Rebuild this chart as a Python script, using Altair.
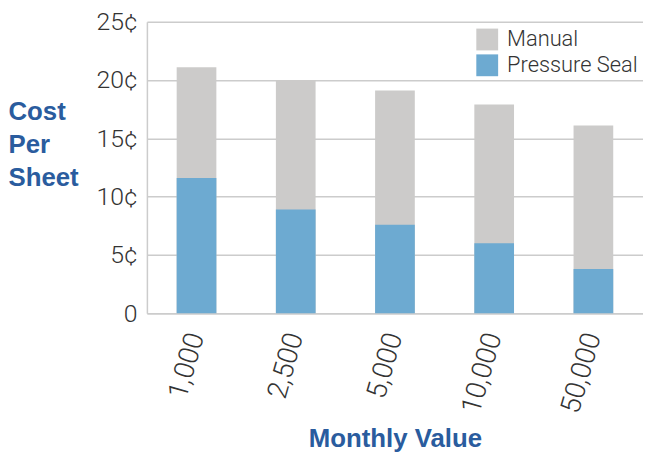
import altair as alt
import pandas as pd

categories = ["1,000", "2,500", "5,000", "10,000", "50,000"]
manual = [21.1, 20.0, 19.1, 17.9, 16.1]
pressure_seal = [11.6, 8.9, 7.6, 6.0, 3.8]
series = ["Manual", "Pressure Seal"]
colors = ["#CCCBCA", "#6DAAD1"]
y_ticks = [0, 5, 10, 15, 20, 25]

rows = []
for c, v in zip(categories, manual):
    rows.append({"volume": c, "cost": v, "type": "Manual"})
for c, v in zip(categories, pressure_seal):
    rows.append({"volume": c, "cost": v, "type": "Pressure Seal"})
df = pd.DataFrame(rows)

blue = "#2A5C9E"
label_font = "Roboto"

chart = alt.Chart(df).mark_bar().encode(
    x=alt.X(
        "volume:N",
        sort=categories,
        scale=alt.Scale(paddingInner=0.6, paddingOuter=0.3),
        axis=alt.Axis(
            title="Monthly Value",
            titleFont="Liberation Sans",
            titleFontWeight="bold",
            titleFontSize=26,
            titleColor=blue,
            titleBaseline="alphabetic",
            titleY=134,
            labelAngle=286,
            labelAlign="right",
            labelBaseline="middle",
            labelFont=label_font,
            labelFontWeight=300,
            labelFontSize=28,
            labelColor="#333333",
            labelPadding=20,
            ticks=False,
            domainColor="#CCCCCC",
            domainWidth=1.5,
        ),
    ),
    y=alt.Y(
        "cost:Q",
        stack=None,
        scale=alt.Scale(domain=[0, 25]),
        axis=alt.Axis(
            values=y_ticks,
            labelExpr="datum.value == 0 ? '0' : datum.value + '¢'",
            title=["Cost", "Per", "Sheet"],
            titleAngle=0,
            titleAlign="left",
            titleBaseline="alphabetic",
            titleX=-140,
            titleY=99,
            titleFont="Liberation Sans",
            titleFontWeight="bold",
            titleFontSize=26,
            titleLineHeight=33,
            titleColor=blue,
            labelFont=label_font,
            labelFontWeight=300,
            labelFontSize=25,
            labelColor="#333333",
            labelPadding=10,
            ticks=False,
            domainColor="#CCCCCC",
            domainWidth=1.5,
            gridColor="#CCCCCC",
            gridWidth=1.5,
        ),
    ),
    color=alt.Color(
        "type:N",
        scale=alt.Scale(domain=series, range=colors),
        legend=alt.Legend(
            title=None,
            orient="none",
            legendX=332,
            legendY=7,
            symbolType="square",
            symbolSize=484,
            symbolStrokeWidth=0,
            symbolOpacity=1,
            labelFont=label_font,
            labelFontWeight=300,
            labelFontSize=22,
            labelColor="#333333",
            labelOffset=9,
            rowPadding=4,
            padding=0,
        ),
    ),
).properties(
    width=500,
    height=294,
    autosize=alt.AutoSizeParams(type="none"),
    padding={"left": 140, "top": 12, "right": 0, "bottom": 138},
).configure_view(stroke=None)

chart.save("out.html", embed_options={"renderer": "svg", "actions": False})
